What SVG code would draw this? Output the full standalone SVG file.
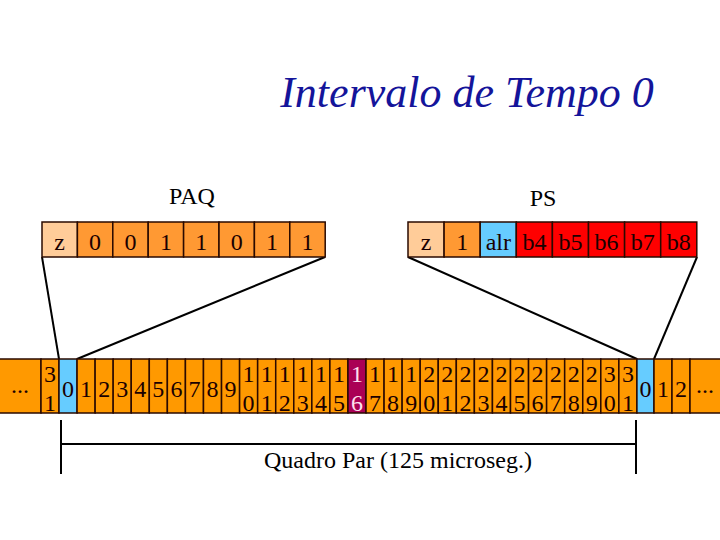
<svg xmlns="http://www.w3.org/2000/svg" width="720" height="540" viewBox="0 0 720 540">
<style>
text{font-family:"Liberation Serif","Times New Roman",serif;font-size:24px;fill:#1a0000;text-anchor:middle}
.title{font-size:44px;font-style:italic;fill:#14149a}
.lbl{fill:#000}
.cell{stroke:#2a0a00;stroke-width:1.5}
.o{fill:#FF9900}
.p{fill:#FF9933}
.z{fill:#FFCC99}
.b{fill:#66CCFF}
.r{fill:#FF0000}
.m{fill:#AA0055}
.w{fill:#FFE0EE}
.ln{stroke:#000;stroke-width:2;fill:none}
</style>
<rect width="720" height="540" fill="#fff"/>
<text class="title" x="467" y="107">Intervalo de Tempo 0</text>
<text class="lbl" x="192" y="204">PAQ</text>
<text class="lbl" x="543" y="206">PS</text>

<g id="connectors">
<line class="ln" x1="42" y1="257" x2="59" y2="359"/>
<line class="ln" x1="325" y1="257" x2="77" y2="359"/>
<line class="ln" x1="408" y1="257" x2="637" y2="359"/>
<line class="ln" x1="697" y1="257" x2="654" y2="359"/>
<line class="ln" x1="61" y1="420" x2="61" y2="474"/>
<line class="ln" x1="636" y1="420" x2="636" y2="474"/>
<line class="ln" x1="61" y1="444" x2="636" y2="444"/>
</g>
<text class="lbl" x="398" y="468">Quadro Par (125 microseg.)</text>

<g id="paq">
<g id="paq-z"><rect class="cell z" x="42" y="222" width="35.4" height="35"/><text x="59.7" y="250">z</text></g>
<g id="paq-1"><rect class="cell p" x="77.4" y="222" width="35.4" height="35"/><text x="95.1" y="250">0</text></g>
<g id="paq-2"><rect class="cell p" x="112.8" y="222" width="35.4" height="35"/><text x="130.5" y="250">0</text></g>
<g id="paq-3"><rect class="cell p" x="148.2" y="222" width="35.4" height="35"/><text x="165.9" y="250">1</text></g>
<g id="paq-4"><rect class="cell p" x="183.6" y="222" width="35.4" height="35"/><text x="201.3" y="250">1</text></g>
<g id="paq-5"><rect class="cell p" x="219" y="222" width="35.4" height="35"/><text x="236.7" y="250">0</text></g>
<g id="paq-6"><rect class="cell p" x="254.4" y="222" width="35.4" height="35"/><text x="272.1" y="250">1</text></g>
<g id="paq-7"><rect class="cell p" x="289.8" y="222" width="35.4" height="35"/><text x="307.5" y="250">1</text></g>
</g>

<g id="ps">
<g id="ps-z"><rect class="cell z" x="408" y="222" width="36.1" height="35"/><text x="426" y="250">z</text></g>
<g id="ps-1"><rect class="cell p" x="444.1" y="222" width="36.1" height="35"/><text x="462.2" y="250">1</text></g>
<g id="ps-alr"><rect class="cell b" x="480.2" y="222" width="36.1" height="35"/><text x="498.3" y="250">alr</text></g>
<g id="ps-b4"><rect class="cell r" x="516.3" y="222" width="36.1" height="35"/><text x="534.4" y="250">b4</text></g>
<g id="ps-b5"><rect class="cell r" x="552.4" y="222" width="36.1" height="35"/><text x="570.5" y="250">b5</text></g>
<g id="ps-b6"><rect class="cell r" x="588.5" y="222" width="36.1" height="35"/><text x="606.6" y="250">b6</text></g>
<g id="ps-b7"><rect class="cell r" x="624.6" y="222" width="36.1" height="35"/><text x="642.7" y="250">b7</text></g>
<g id="ps-b8"><rect class="cell r" x="660.7" y="222" width="36.1" height="35"/><text x="678.8" y="250">b8</text></g>
</g>

<g id="frame">
<g id="f-prev"><rect class="cell o" x="-1" y="359" width="42" height="54"/><text x="20" y="393">...</text></g>
<g id="f-prev31"><rect class="cell o" x="41" y="359" width="18" height="54"/><text x="50" y="382">3</text><text x="50" y="411">1</text></g>
<g id="ts0"><rect class="cell b" x="59" y="359" width="18.06" height="54"/><text x="68.0" y="397">0</text></g>
<g id="ts1"><rect class="cell o" x="77.06" y="359" width="18.06" height="54"/><text x="86.1" y="397">1</text></g>
<g id="ts2"><rect class="cell o" x="95.12" y="359" width="18.06" height="54"/><text x="104.2" y="397">2</text></g>
<g id="ts3"><rect class="cell o" x="113.18" y="359" width="18.06" height="54"/><text x="122.2" y="397">3</text></g>
<g id="ts4"><rect class="cell o" x="131.24" y="359" width="18.06" height="54"/><text x="140.3" y="397">4</text></g>
<g id="ts5"><rect class="cell o" x="149.3" y="359" width="18.06" height="54"/><text x="158.3" y="397">5</text></g>
<g id="ts6"><rect class="cell o" x="167.36" y="359" width="18.06" height="54"/><text x="176.4" y="397">6</text></g>
<g id="ts7"><rect class="cell o" x="185.42" y="359" width="18.06" height="54"/><text x="194.5" y="397">7</text></g>
<g id="ts8"><rect class="cell o" x="203.48" y="359" width="18.06" height="54"/><text x="212.5" y="397">8</text></g>
<g id="ts9"><rect class="cell o" x="221.54" y="359" width="18.06" height="54"/><text x="230.6" y="397">9</text></g>
<g id="ts10"><rect class="cell o" x="239.6" y="359" width="18.06" height="54"/><text x="248.6" y="382">1</text><text x="248.6" y="411">0</text></g>
<g id="ts11"><rect class="cell o" x="257.66" y="359" width="18.06" height="54"/><text x="266.7" y="382">1</text><text x="266.7" y="411">1</text></g>
<g id="ts12"><rect class="cell o" x="275.72" y="359" width="18.06" height="54"/><text x="284.8" y="382">1</text><text x="284.8" y="411">2</text></g>
<g id="ts13"><rect class="cell o" x="293.78" y="359" width="18.06" height="54"/><text x="302.8" y="382">1</text><text x="302.8" y="411">3</text></g>
<g id="ts14"><rect class="cell o" x="311.84" y="359" width="18.06" height="54"/><text x="320.9" y="382">1</text><text x="320.9" y="411">4</text></g>
<g id="ts15"><rect class="cell o" x="329.9" y="359" width="18.06" height="54"/><text x="338.9" y="382">1</text><text x="338.9" y="411">5</text></g>
<g id="ts16"><rect class="cell m" x="347.96" y="359" width="18.06" height="54"/><text class="w" x="357.0" y="382">1</text><text class="w" x="357.0" y="411">6</text></g>
<g id="ts17"><rect class="cell o" x="366.02" y="359" width="18.06" height="54"/><text x="375.1" y="382">1</text><text x="375.1" y="411">7</text></g>
<g id="ts18"><rect class="cell o" x="384.08" y="359" width="18.06" height="54"/><text x="393.1" y="382">1</text><text x="393.1" y="411">8</text></g>
<g id="ts19"><rect class="cell o" x="402.14" y="359" width="18.06" height="54"/><text x="411.2" y="382">1</text><text x="411.2" y="411">9</text></g>
<g id="ts20"><rect class="cell o" x="420.2" y="359" width="18.06" height="54"/><text x="429.2" y="382">2</text><text x="429.2" y="411">0</text></g>
<g id="ts21"><rect class="cell o" x="438.26" y="359" width="18.06" height="54"/><text x="447.3" y="382">2</text><text x="447.3" y="411">1</text></g>
<g id="ts22"><rect class="cell o" x="456.32" y="359" width="18.06" height="54"/><text x="465.4" y="382">2</text><text x="465.4" y="411">2</text></g>
<g id="ts23"><rect class="cell o" x="474.38" y="359" width="18.06" height="54"/><text x="483.4" y="382">2</text><text x="483.4" y="411">3</text></g>
<g id="ts24"><rect class="cell o" x="492.44" y="359" width="18.06" height="54"/><text x="501.5" y="382">2</text><text x="501.5" y="411">4</text></g>
<g id="ts25"><rect class="cell o" x="510.5" y="359" width="18.06" height="54"/><text x="519.5" y="382">2</text><text x="519.5" y="411">5</text></g>
<g id="ts26"><rect class="cell o" x="528.56" y="359" width="18.06" height="54"/><text x="537.6" y="382">2</text><text x="537.6" y="411">6</text></g>
<g id="ts27"><rect class="cell o" x="546.62" y="359" width="18.06" height="54"/><text x="555.7" y="382">2</text><text x="555.7" y="411">7</text></g>
<g id="ts28"><rect class="cell o" x="564.68" y="359" width="18.06" height="54"/><text x="573.7" y="382">2</text><text x="573.7" y="411">8</text></g>
<g id="ts29"><rect class="cell o" x="582.74" y="359" width="18.06" height="54"/><text x="591.8" y="382">2</text><text x="591.8" y="411">9</text></g>
<g id="ts30"><rect class="cell o" x="600.8" y="359" width="18.06" height="54"/><text x="609.8" y="382">3</text><text x="609.8" y="411">0</text></g>
<g id="ts31"><rect class="cell o" x="618.86" y="359" width="18.06" height="54"/><text x="627.9" y="382">3</text><text x="627.9" y="411">1</text></g>
<g id="n0"><rect class="cell b" x="636.92" y="359" width="17.08" height="54"/><text x="645.5" y="397">0</text></g>
<g id="n1"><rect class="cell o" x="654" y="359" width="18" height="54"/><text x="663" y="397">1</text></g>
<g id="n2"><rect class="cell o" x="672" y="359" width="18" height="54"/><text x="681" y="397">2</text></g>
<g id="n-next"><rect class="cell o" x="690" y="359" width="31" height="54"/><text x="705" y="393">...</text></g>
</g>
</svg>
